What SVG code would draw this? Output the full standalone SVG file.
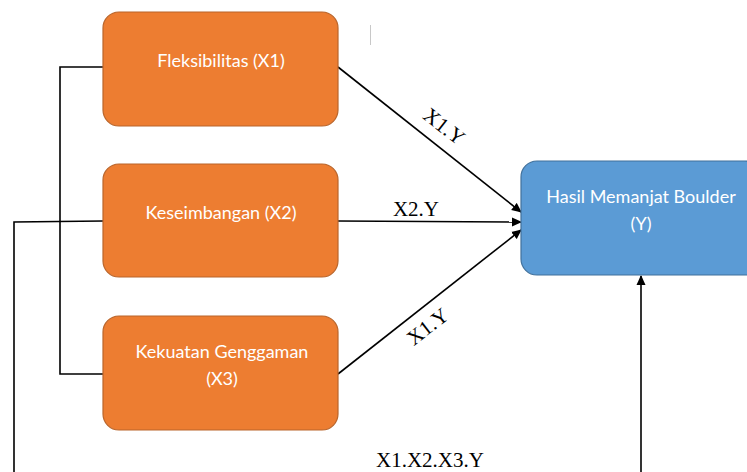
<svg xmlns="http://www.w3.org/2000/svg" width="747" height="472" viewBox="0 0 747 472">
<style>
.box{fill:#ED7D31;stroke:#B9652B;stroke-width:1.2}
.blue{fill:#5B9BD5;stroke:#41719C;stroke-width:1.2}
.t{font-family:Lato,"Open Sans","Liberation Sans",sans-serif;font-size:18px;fill:#fff;text-anchor:middle}
.lbl{font-family:"Liberation Serif","Times New Roman",serif;font-size:21px;fill:#000;text-anchor:middle}
.ln{fill:none;stroke:#000;stroke-width:1.6}
</style>
<defs>
<marker id="ah" markerWidth="10" markerHeight="10" refX="9" refY="5" orient="auto" markerUnits="userSpaceOnUse">
<path d="M0,0.5 L10,5 L0,9.5 Z" fill="#000"/>
</marker>
</defs>
<rect width="747" height="472" fill="#fff"/>
<line x1="370.5" y1="25" x2="370.5" y2="45" stroke="#c8c8c8" stroke-width="1"/>
<g id="connectors">
<polyline class="ln" points="103,67 60,67 60,374 103,374"/>
<polyline class="ln" points="103,221 14,222 14,472"/>
<line class="ln" x1="641" y1="472" x2="641" y2="276" marker-end="url(#ah)"/>
<line class="ln" x1="338" y1="67" x2="521" y2="212" marker-end="url(#ah)"/>
<line class="ln" x1="338" y1="221" x2="521" y2="222" marker-end="url(#ah)"/>
<line class="ln" x1="338" y1="374" x2="521" y2="230" marker-end="url(#ah)"/>
<text class="lbl" transform="translate(440,132) rotate(38)">X1.Y</text>
<text class="lbl" x="416" y="216">X2.Y</text>
<text class="lbl" transform="translate(432,332) rotate(-38)">X1.Y</text>
<text class="lbl" x="430" y="467">X1.X2.X3.Y</text>
</g>
<g id="x1">
<rect class="box" x="103" y="12" width="235" height="114" rx="16"/>
<text class="t" x="221" y="67">Fleksibilitas (X1)</text>
</g>
<g id="x2">
<rect class="box" x="103" y="164" width="235" height="113" rx="16"/>
<text class="t" x="221" y="219">Keseimbangan (X2)</text>
</g>
<g id="x3">
<rect class="box" x="103" y="316" width="235" height="114" rx="16"/>
<text class="t" x="222" y="358">Kekuatan Genggaman</text>
<text class="t" x="222" y="385">(X3)</text>
</g>
<g id="y">
<rect class="blue" x="521" y="161" width="240" height="114" rx="16"/>
<text class="t" x="641" y="203">Hasil Memanjat Boulder</text>
<text class="t" x="641" y="230">(Y)</text>
</g>
</svg>
